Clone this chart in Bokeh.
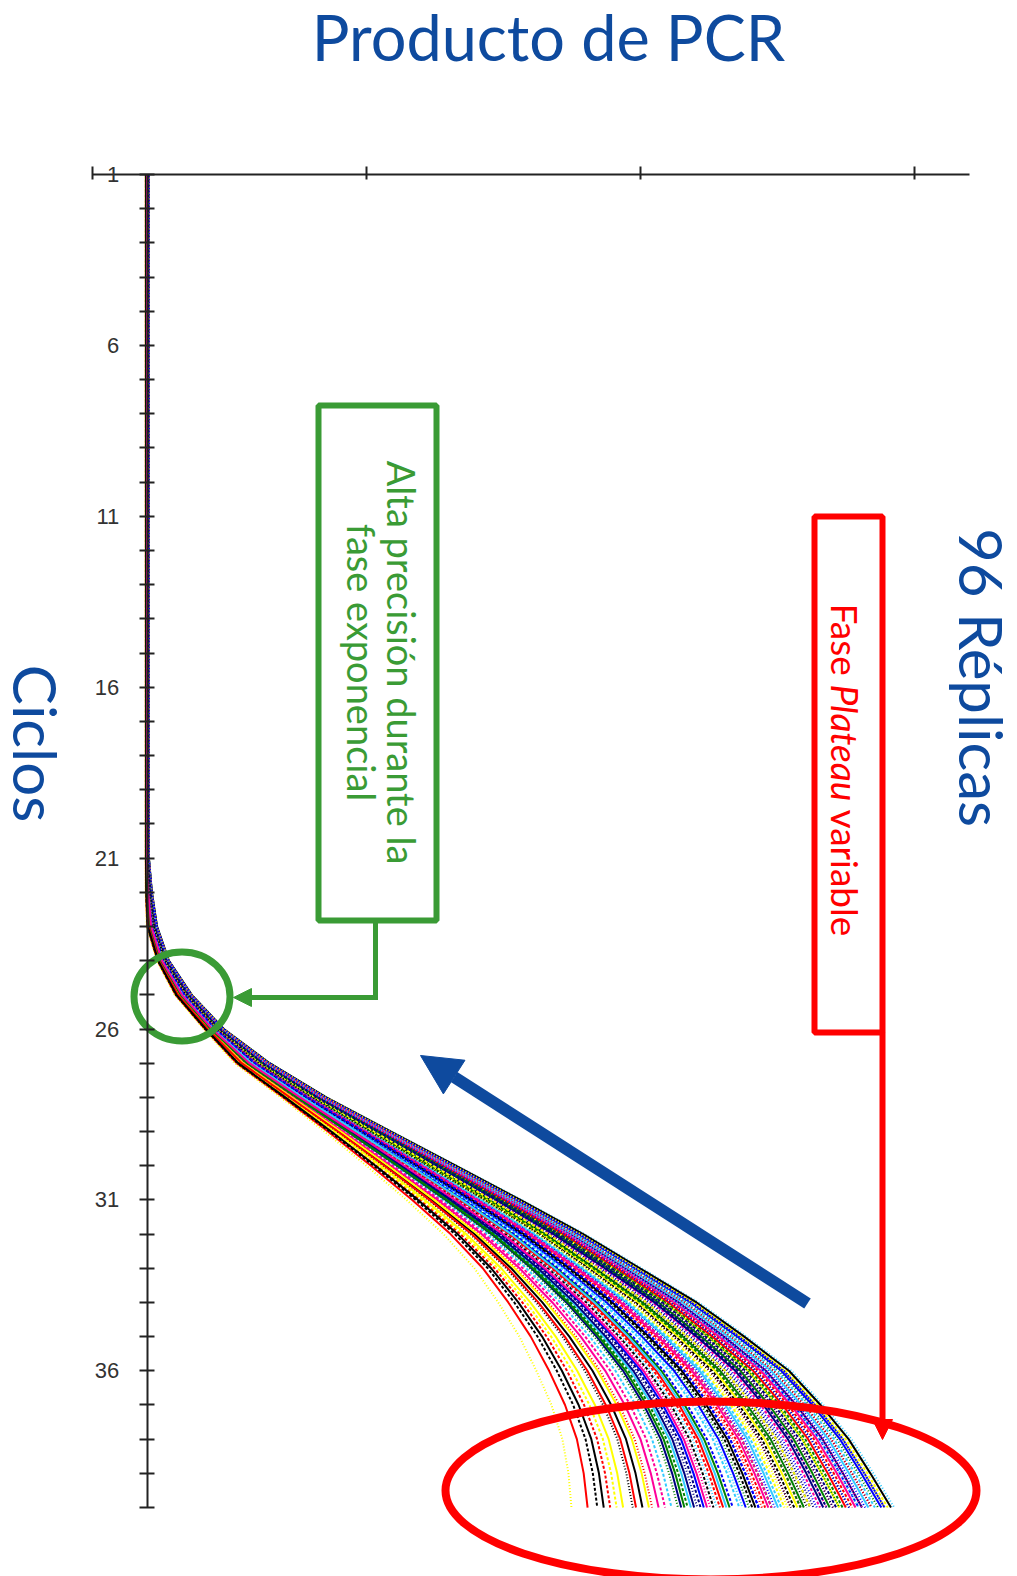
from bokeh.plotting import figure
from bokeh.models import Range1d, LinearAxis, FixedTicker, Label, Arrow, NormalHead
from bokeh.embed import file_html
from bokeh.resources import INLINE

# ---------------------------------------------------------------- data
cycles = list(range(1, 41))
cycle_labels = [1, 6, 11, 16, 21, 26, 31, 36]
product_ticks = [0, 1, 2, 3]

# left-most and right-most amplification curves (PCR product per cycle)
lowest_curve = [
    0.200, 0.200, 0.200, 0.200, 0.200, 0.200, 0.200, 0.200, 0.200, 0.200,
    0.200, 0.200, 0.200, 0.200, 0.200, 0.200, 0.200, 0.200, 0.200, 0.200,
    0.200, 0.200, 0.204, 0.241, 0.306, 0.412, 0.525, 0.693, 0.853, 1.006,
    1.152, 1.287, 1.400, 1.487, 1.564, 1.626, 1.681, 1.721, 1.743, 1.754,
]
highest_curve = [
    0.200, 0.200, 0.200, 0.200, 0.200, 0.200, 0.200, 0.200, 0.200, 0.200,
    0.200, 0.200, 0.200, 0.200, 0.200, 0.200, 0.200, 0.200, 0.200, 0.200,
    0.200, 0.211, 0.230, 0.273, 0.357, 0.474, 0.642, 0.849, 1.086, 1.323,
    1.560, 1.790, 1.998, 2.206, 2.381, 2.545, 2.661, 2.764, 2.844, 2.920,
]
# where each of the 96 replicates sits between those two curves (0..1)
replicate_position = [
    0.97, 0.12, 0.55, 0.83, 0.31, 0.68, 0.90, 0.44, 0.76, 0.05,
    0.62, 0.88, 0.37, 0.71, 0.93, 0.22, 0.58, 0.81, 0.49, 0.66,
    1.00, 0.27, 0.74, 0.86, 0.41, 0.60, 0.95, 0.16, 0.52, 0.79,
    0.34, 0.69, 0.91, 0.47, 0.84, 0.00, 0.64, 0.77, 0.39, 0.57,
    0.89, 0.25, 0.72, 0.98, 0.45, 0.61, 0.82, 0.19, 0.54, 0.87,
    0.33, 0.70, 0.94, 0.43, 0.78, 0.08, 0.63, 0.85, 0.36, 0.67,
    0.92, 0.29, 0.75, 0.99, 0.50, 0.59, 0.80, 0.14, 0.53, 0.88,
    0.40, 0.73, 0.96, 0.46, 0.83, 0.24, 0.65, 0.90, 0.38, 0.56,
    0.86, 0.20, 0.71, 0.97, 0.48, 0.62, 0.81, 0.10, 0.58, 0.93,
    0.35, 0.74, 0.89, 0.42, 0.79, 0.68,
]

# ---------------------------------------------------------------- styles
W, H = 1017, 1576
X0_PX, PX_PER_PRODUCT = 92, 274.0      # product 0 sits at x=92 px
Y0_PX, PX_PER_CYCLE = 174, 34.18       # cycle 1 sits at y=174 px

BLUE = "#0E4A9E"
GREEN = "#3A9B35"
RED = "#FF0000"
AXIS = "#222222"
palette = ["#0000FF", "#FF0000", "#008000", "#FFFF00",
           "#33CCFF", "#FF0099", "#000080", "#000000"]
dashes = ["solid", "3 2", "1 2"]


def at_x(px):
    return (px - X0_PX) / PX_PER_PRODUCT


def at_y(py):
    return 1 + (py - Y0_PX) / PX_PER_CYCLE


p = figure(
    width=W, height=H,
    x_range=Range1d(at_x(0), at_x(W)),
    y_range=Range1d(at_y(H), at_y(0)),
    x_axis_location=None, y_axis_location=None,
    output_backend="svg", toolbar_location=None,
    min_border=0, outline_line_color=None,
    background_fill_color="white", border_fill_color="white",
)
p.grid.grid_line_color = None

# ---------------------------------------------------------------- axes
cycle_axis = LinearAxis(
    fixed_location=0.2, bounds=(1, 40),
    ticker=FixedTicker(ticks=cycles),
    major_label_overrides={c: "" for c in cycles if c not in cycle_labels},
    axis_line_color=AXIS, axis_line_width=2,
    major_tick_line_color=AXIS, major_tick_line_width=2,
    major_tick_in=7, major_tick_out=8,
    minor_tick_line_color=None,
    major_label_standoff=20,
    major_label_text_font="Liberation Sans",
    major_label_text_font_size="22px",
    major_label_text_color="#333333",
)
p.add_layout(cycle_axis, "left")

product_axis = LinearAxis(
    fixed_location=1, bounds=(0, 3.2),
    ticker=FixedTicker(ticks=product_ticks),
    major_label_overrides={t: "" for t in product_ticks},
    axis_line_color=AXIS, axis_line_width=2,
    major_tick_line_color=AXIS, major_tick_line_width=2,
    major_tick_in=5, major_tick_out=8,
    minor_tick_line_color=None,
)
p.add_layout(product_axis, "above")

# ---------------------------------------------------------------- curves
for i, pos in enumerate(replicate_position):
    xs = [lo + pos * (hi - lo) + (pos - 0.5) * 0.012
          for lo, hi in zip(lowest_curve, highest_curve)]
    p.line(xs, cycles, line_color=palette[i % len(palette)],
           line_dash=dashes[i % len(dashes)], line_width=2)

# ---------------------------------------------------------------- callouts
# exponential phase: box, connector and circle
p.quad(left=at_x(318), right=at_x(436), top=at_y(405), bottom=at_y(920),
       fill_color=None, line_color=GREEN, line_width=6)
p.line([at_x(375), at_x(375), at_x(245)], [at_y(920), at_y(997), at_y(997)],
       line_color=GREEN, line_width=5, line_join="miter")
p.add_layout(Arrow(x_start=at_x(255), y_start=at_y(997), x_end=at_x(233), y_end=at_y(997),
                   line_color=GREEN, line_width=5,
                   end=NormalHead(size=18, fill_color=GREEN, line_color=GREEN)))
p.ellipse(x=at_x(181.5), y=at_y(996), width=96, height=89,
          width_units="screen", height_units="screen",
          fill_color=None, line_color=GREEN, line_width=7)

# plateau phase: box, connector and ellipse
p.quad(left=at_x(814), right=at_x(882), top=at_y(516), bottom=at_y(1032),
       fill_color=None, line_color=RED, line_width=6)
p.add_layout(Arrow(x_start=at_x(882), y_start=at_y(1032), x_end=at_x(882), y_end=at_y(1439),
                   line_color=RED, line_width=6,
                   end=NormalHead(size=20, fill_color=RED, line_color=RED)))
p.ellipse(x=at_x(710.5), y=at_y(1490), width=531, height=178,
          width_units="screen", height_units="screen",
          fill_color=None, line_color=RED, line_width=8)

# direction of the fan
p.add_layout(Arrow(x_start=at_x(807), y_start=at_y(1303), x_end=at_x(420), y_end=at_y(1055),
                   line_color=BLUE, line_width=12,
                   end=NormalHead(size=40, fill_color=BLUE, line_color=BLUE)))

# ---------------------------------------------------------------- texts
BASELINE_SHIFT = 0.41   # Label places the baseline this many em past its anchor


def label(px, py, text, size, color, angle=0, align="center", style="normal"):
    shift = BASELINE_SHIFT * size
    if angle == 0:
        py -= shift
    else:
        px += shift
    p.add_layout(Label(x=at_x(px), y=at_y(py), text=text, angle=angle, angle_units="deg",
                       text_font="Lato", text_font_size=f"{size}px", text_color=color,
                       text_font_style=style, text_align=align,
                       text_baseline="alphabetic"))


label(548, 62, "Producto de PCR", 63, BLUE)
label(11, 743, "Ciclos", 60, BLUE, angle=-90)
label(957, 677, "96 Réplicas", 60, BLUE, angle=-90)
label(386, 662, "Alta precisión durante la", 38, GREEN, angle=-90)
label(346, 662, "fase exponencial", 38, GREEN, angle=-90)
label(830, 603, "Fase", 37, RED, angle=-90, align="left")
label(830, 684, "Plateau", 37, RED, angle=-90, align="left", style="italic")
label(830, 809, "variable", 37, RED, angle=-90, align="left")

open("out.html", "w").write(file_html(p, INLINE))
